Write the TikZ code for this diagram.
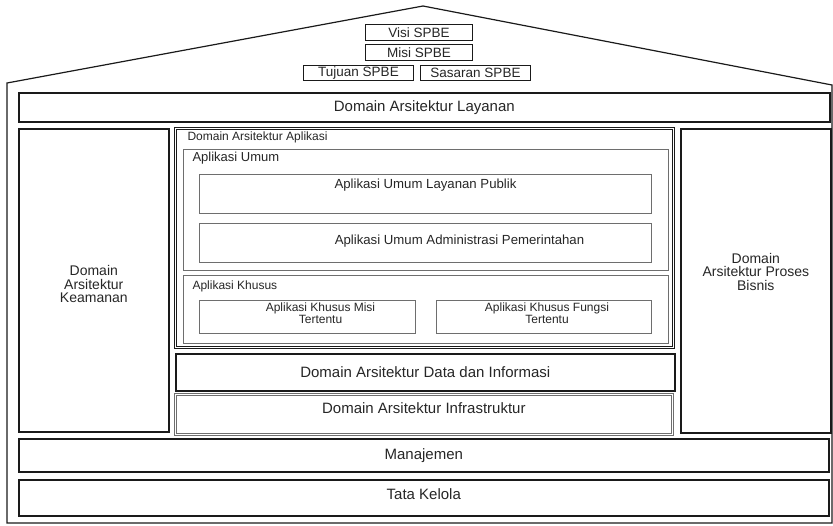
\documentclass[tikz,border=0pt]{standalone}
\usepackage{fontspec}
\setmainfont{Liberation Sans}
\usepackage{tikz}
\usetikzlibrary{positioning}

\definecolor{ink}{HTML}{262626}
\definecolor{edge}{HTML}{1A1A1A}
\definecolor{soft}{HTML}{6E6E6E}

\tikzset{
  bigbox/.style={draw=edge,line width=1.6pt,anchor=north west,inner sep=0pt,text=ink},
  subbox/.style={draw=soft,line width=1pt,anchor=north west,inner sep=0pt,text=ink},
  dblbox/.style={draw=edge,double=white,double distance=1.4pt,line width=0.7pt,anchor=north west,inner sep=0pt},
  bigtxt/.style={text=ink,font=\fontsize{15}{16}\selectfont},
  toptxt/.style={text=ink,font=\fontsize{13.5}{14}\selectfont},
  midtxt/.style={text=ink,font=\fontsize{13.2}{13.5}\selectfont,align=center},
  coltxt/.style={text=ink,font=\fontsize{14}{13.5}\selectfont,align=center},
  smalltxt/.style={text=ink,font=\fontsize{12}{11.5}\selectfont,align=center}
}

\begin{document}
\begin{tikzpicture}[x=1pt,y=-1pt]
\useasboundingbox (0,0) rectangle (833,525);
% house outline
\draw[edge,line width=1.2pt] (7,523) -- (7,83) -- (423,6) -- (832,85) -- (832,523) -- cycle;
% roof
\node[subbox,draw=edge,minimum width=107,minimum height=16,toptxt](visi) at (365,24) {Visi SPBE};
\node[subbox,draw=edge,minimum width=107,minimum height=16,toptxt](misispbe) at (365,44) {Misi SPBE};
\node[subbox,draw=edge,minimum width=110,minimum height=15,toptxt](tujuan) at (303,65) {Tujuan SPBE};
\node[subbox,draw=edge,minimum width=110,minimum height=15,toptxt](sasaran) at (420,65) {Sasaran SPBE};
% layers
\node[bigbox,minimum width=811,minimum height=29,bigtxt](layanan) at (18,92) {Domain Arsitektur Layanan};
\node[bigbox,minimum width=150,minimum height=303](keamanan) at (18,128) {};
\node[coltxt] (keamananlbl) at ([yshift=-4pt]keamanan.center) {Domain\\Arsitektur\\Keamanan};
\node[bigbox,minimum width=150,minimum height=304](proses) at (680,128) {};
\node[coltxt] (proseslbl) at ([yshift=9pt]proses.center) {Domain\\Arsitektur Proses\\Bisnis};
% aplikasi
\node[dblbox,minimum width=498,minimum height=219](aplikasi) at (175,128) {};
\node[smalltxt,anchor=west] (aplikasilbl) at (184,137) {Domain Arsitektur Aplikasi};
\node[subbox,minimum width=485,minimum height=121](umum) at (183,149) {};
\node[smalltxt,anchor=west,font=\fontsize{13}{13}\selectfont] (umumlbl) at (189,158) {Aplikasi Umum};
\node[subbox,minimum width=452,minimum height=39](publik) at (199,174) {};
\node[midtxt] (publiklbl) at ([yshift=9pt]publik.center) {Aplikasi Umum Layanan Publik};
\node[subbox,minimum width=452,minimum height=39](admin) at (199,223) {};
\node[midtxt] (adminlbl) at ([xshift=34pt,yshift=2pt]admin.center) {Aplikasi Umum Administrasi Pemerintahan};
\node[subbox,minimum width=485,minimum height=68](khusus) at (183,275) {};
\node[smalltxt,anchor=west] (khususlbl) at (189,286) {Aplikasi Khusus};
\node[subbox,minimum width=216,minimum height=33](misi) at (199,300) {};
\node[smalltxt] (misilbl) at ([xshift=13pt,yshift=4pt]misi.center) {Aplikasi Khusus Misi\\Tertentu};
\node[subbox,minimum width=215,minimum height=33](fungsi) at (436,300) {};
\node[smalltxt] (fungsilbl) at ([xshift=3pt,yshift=4pt]fungsi.center) {Aplikasi Khusus Fungsi\\Tertentu};
% data, infrastruktur
\node[bigbox,minimum width=499,minimum height=37,bigtxt](data) at (175,353) {Domain Arsitektur Data dan Informasi};
\node[dblbox,draw=soft,minimum width=497,minimum height=40](infra) at (175,394) {};
\node[bigtxt] (infralbl) at ([yshift=6pt]infra.center) {Domain Arsitektur Infrastruktur};
% base
\node[bigbox,minimum width=810,minimum height=33,bigtxt](manajemen) at (18,438) {Manajemen};
\node[bigbox,minimum width=810,minimum height=36](tatakelola) at (18,479) {};
\node[bigtxt] (tatakelolalbl) at ([yshift=4pt]tatakelola.center) {Tata Kelola};
\end{tikzpicture}
\end{document}
